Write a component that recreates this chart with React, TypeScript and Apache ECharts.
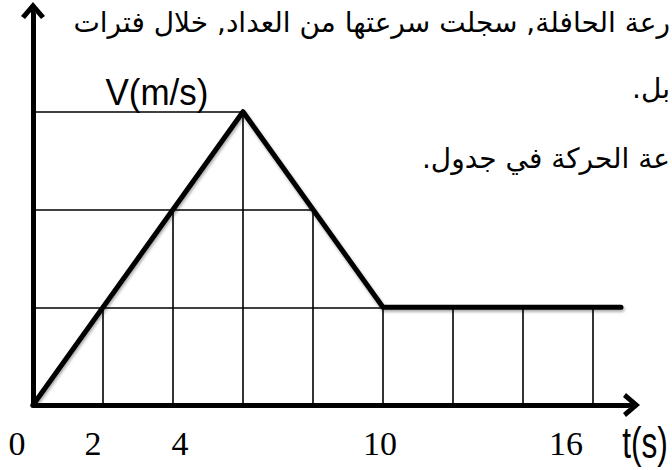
import React, { useEffect, useRef } from "react";
import * as echarts from "echarts";

// Curve: time (s) and speed (grid units; the V axis carries no numbers)
const times = [0, 6, 10, 16.8];
const speeds = [0, 3, 1, 1];

// Horizontal guide lines: level and the time where each one meets the curve
const levelValues = [1, 2, 3];
const levelEnds = [10, 8, 6];

// Vertical guide lines: time and the level they rise to
const gridTimes = [2, 4, 6, 8, 10, 12, 14, 16];
const gridTops = [1, 2, 3, 2, 1, 1, 1, 1];

// Tick labels shown on the time axis
const tickLabels = [0, 2, 4, 10, 16];

const xName = "t(s)";
const yName = "V(m/s)";
const textLines = [
  "رعة الحافلة, سجلت سرعتها من العداد, خلال فترات",
  "بل.",
  "عة الحركة في جدول.",
];

// style-only horizontal nudges of the tick labels (px, negative = left)
const labelNudge: Record<number, number> = { 0: -16, 2: -10, 4: 7, 10: -3, 16: -27 };

const ARROW = "path://M12,0 L24,14 L20,17 L14,10 L14,24 L10,24 L10,10 L4,17 L0,14 Z";
const SHADOW = {
  shadowColor: "rgba(0,0,0,0.35)",
  shadowBlur: 3,
  shadowOffsetX: 1,
  shadowOffsetY: 2,
};
const RLM = "\u200F";

export default function App() {
  const ref = useRef<HTMLDivElement>(null);

  useEffect(() => {
    if (!ref.current) return;
    const chart = echarts.init(ref.current, null, {
      renderer: "svg",
      width: 672,
      height: 470,
    });

    const guideData = [
      ...levelValues.map((v, i) => ({ coords: [[0, v], [levelEnds[i], v]] })),
      ...gridTimes.map((t, i) => ({ coords: [[t, 0], [t, gridTops[i]]] })),
    ];

    const labelFont = {
      fontFamily: '"Liberation Serif", "Times New Roman", serif',
      fontSize: 34,
      color: "#000",
    };
    const rich: Record<string, any> = {};
    tickLabels.forEach((v, i) => {
      const s = labelNudge[v] || 0;
      rich["n" + i] = {
        ...labelFont,
        padding: s < 0 ? [0, -2 * s, 0, 0] : [0, 0, 0, 2 * s],
      };
    });

    const arabicFont = '28px "DejaVu Sans"';
    const arabicY = [22, 88, 158];

    chart.setOption({
      animation: false,
      backgroundColor: "#ffffff",
      grid: { left: 33, right: 44, top: 14, bottom: 65, containLabel: false },
      xAxis: {
        type: "value",
        min: 0,
        max: 17,
        axisLine: {
          show: true,
          onZero: false,
          symbol: ["none", ARROW],
          symbolSize: [26, 24],
          lineStyle: { color: "#000", width: 5 },
        },
        axisTick: { show: false },
        splitLine: { show: false },
        axisLabel: {
          customValues: tickLabels,
          ...labelFont,
          margin: 21,
          formatter: (v: number) => {
            const i = tickLabels.indexOf(v);
            return i >= 0 ? `{n${i}|${v}}` : String(v);
          },
          rich,
        },
      },
      yAxis: {
        type: "value",
        min: 0,
        max: 4,
        axisLine: {
          show: true,
          onZero: false,
          symbol: ["none", ARROW],
          symbolSize: [26, 24],
          lineStyle: { color: "#000", width: 5 },
        },
        axisTick: { show: false },
        splitLine: { show: false },
        axisLabel: { show: false },
      },
      series: [
        {
          type: "lines",
          coordinateSystem: "cartesian2d",
          z: 1,
          silent: true,
          lineStyle: { color: "#000", width: 1.6, opacity: 1, curveness: 0 },
          data: guideData,
        },
        {
          type: "line",
          z: 3,
          showSymbol: false,
          symbol: "none",
          lineStyle: { color: "#000", width: 5, cap: "round", join: "round", ...SHADOW },
          data: times.map((t, i) => [t, speeds[i]]),
        },
      ],
      graphic: [
        {
          type: "text",
          x: 157,
          y: 92,
          scaleY: 1.08,
          style: {
            text: yName,
            font: '35px "Liberation Sans", Arial, sans-serif',
            fill: "#000",
            align: "center",
            verticalAlign: "middle",
            textAlign: "center",
            textVerticalAlign: "middle",
          },
        },
        {
          type: "text",
          x: 645,
          y: 443,
          scaleX: 0.72,
          style: {
            text: xName,
            font: '44px "Liberation Sans", Arial, sans-serif',
            fill: "#000",
            align: "center",
            verticalAlign: "middle",
            textAlign: "center",
            textVerticalAlign: "middle",
          },
        },
        ...textLines.map((s, i) => ({
          type: "text",
          x: 670,
          y: arabicY[i],
          style: {
            text: s + RLM,
            font: arabicFont,
            fill: "#000",
            align: "right",
            verticalAlign: "middle",
            textAlign: "right",
            textVerticalAlign: "middle",
          },
        })),
      ],
    });

    return () => chart.dispose();
  }, []);

  return (
    <div
      ref={ref}
      style={{ position: "absolute", left: 0, top: 0, width: 672, height: 470, background: "#fff" }}
    />
  );
}
